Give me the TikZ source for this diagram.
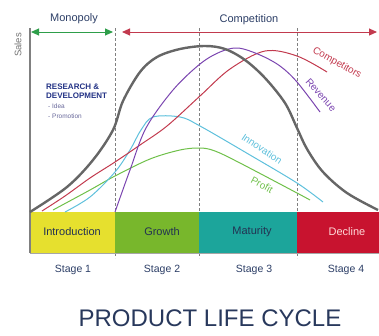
\documentclass[tikz,border=0pt]{standalone}
\usepackage{fontspec}
\setmainfont{Liberation Sans}
\usetikzlibrary{arrows.meta, positioning}

\definecolor{navytext}{HTML}{2C3E66}
\definecolor{introcol}{HTML}{E6E02E}
\definecolor{growthcol}{HTML}{78B72C}
\definecolor{maturecol}{HTML}{1CA59B}
\definecolor{declinecol}{HTML}{C8132F}
\definecolor{salesgray}{HTML}{666666}
\definecolor{revcol}{HTML}{7B45B0}
\definecolor{compcol}{HTML}{C23A4E}
\definecolor{innocol}{HTML}{5EC0DC}
\definecolor{profcol}{HTML}{6FC04A}
\definecolor{monocol}{HTML}{2E9E4A}

\begin{document}
\begin{tikzpicture}[x=1pt,y=-1pt,
    stageline/.style={gray, densely dashed, line width=0.9pt},
    curve/.style={line width=1pt, smooth, tension=0.55},
    barlabel/.style={font=\fontsize{11}{12}\selectfont, text=navytext!80!black},
    stagelabel/.style={font=\fontsize{10.5}{12}\selectfont, text=navytext},
    curvelabel/.style={font=\fontsize{10}{12}\selectfont, inner sep=0pt}]
\useasboundingbox (0,0) rectangle (379,335);

% stage borders
\draw[stageline] (115,28) -- (115,258);
\draw[stageline] (199,28) -- (199,258);
\draw[stageline] (297,28) -- (297,258);

% the four stages
\fill[introcol] (30,212) rectangle (115,253);
\fill[growthcol] (115,212) rectangle (199,253);
\fill[maturecol] (199,212) rectangle (297,253);
\fill[declinecol] (297,212) rectangle (379,253);
\draw[gray!70, line width=0.6pt] (30,253) -- (379,253);
\draw[gray, line width=1.2pt] (30,28) -- (30,253);

\node[barlabel] (intro) at (72,232) {Introduction};
\node[barlabel] (growth) at (162,232) {Growth};
\node[barlabel] (maturity) at (252,232) {Maturity};
\node[barlabel, text=white!85!red] (decline) at (347,232) {Decline};

\node[stagelabel] (s1) at (73,270) {Stage 1};
\node[stagelabel] (s2) at (162,270) {Stage 2};
\node[stagelabel] (s3) at (254,270) {Stage 3};
\node[stagelabel] (s4) at (346,270) {Stage 4};

% top arrows
\coordinate (monoA) at (31,32);
\coordinate (monoB) at (113,32);
\coordinate (compA) at (122,32);
\coordinate (compB) at (377,32);
\draw[monocol, line width=1pt, {Triangle[length=8pt,width=7pt]}-{Triangle[length=8pt,width=7pt]}] (monoA) -- (monoB);
\draw[compcol, line width=1pt, {Triangle[length=8pt,width=7pt]}-{Triangle[length=8pt,width=7pt]}] (compA) -- (compB);
\node[font=\fontsize{11}{12}\selectfont, text=navytext] (mono) at (74,19) {Monopoly};
\node[font=\fontsize{11}{12}\selectfont, text=navytext] (comp) at (249,20) {Competition};

\node[rotate=90, font=\fontsize{9.5}{10}\selectfont, text=gray!90!black] (sales) at (18,45) {Sales};

% research & development
\node[anchor=north west, align=left, inner sep=0pt, font=\fontsize{8}{9}\bfseries\selectfont, text=navytext!80!blue]
    (rnd) at (46,84) {RESEARCH \&\\DEVELOPMENT};
\node[anchor=north west, inner sep=0pt, font=\fontsize{6.5}{8}\selectfont, text=gray!80!blue] (idea) at (48,104) {- Idea};
\node[anchor=north west, inner sep=0pt, font=\fontsize{6.5}{8}\selectfont, text=gray!80!blue] (promo) at (48,114) {- Promotion};

% curves
\draw[curve, profcol] plot coordinates {(53,210) (90,190) (115,176) (150,159) (180,150) (200,148) (215,151) (240,163) (297,193) (310,200)};
\draw[curve, innocol] plot coordinates {(65,212) (90,197) (115,172) (130,150) (141,130) (153,117) (180,117) (200,126) (250,155) (297,183) (323,202)};
\draw[curve, compcol] plot coordinates {(42,211) (65,196) (90,178) (115,162) (140,145) (167,126) (200,96) (230,69) (265,51) (297,56) (327,72)};
\draw[curve, revcol] plot coordinates {(115,212) (130,170) (146,128) (173,90) (200,64) (220,52) (238,48) (260,55) (280,66) (297,82) (320,112)};
\draw[curve, salesgray, line width=2.4pt] plot coordinates {(30,212) (67,187) (93,160) (113,130) (123,101) (140,72) (157,57) (180,49) (205,46) (225,49) (245,60) (265,78) (285,103) (297,128) (307,149) (323,172) (347,193) (378,210)};

% curve labels
\node[curvelabel, text=compcol, rotate=-29] (complbl) at (337,63) {Competitors};
\node[curvelabel, text=revcol, rotate=-48] (revlbl) at (321,95) {Revenue};
\node[curvelabel, text=innocol, rotate=-34] (innolbl) at (262,149) {Innovation};
\node[curvelabel, text=profcol, rotate=-28] (proflbl) at (262,185) {Profit};

\node[font=\fontsize{24}{28}\selectfont, text=navytext!90!black] (title) at (210,318) {PRODUCT LIFE CYCLE};
\end{tikzpicture}
\end{document}
